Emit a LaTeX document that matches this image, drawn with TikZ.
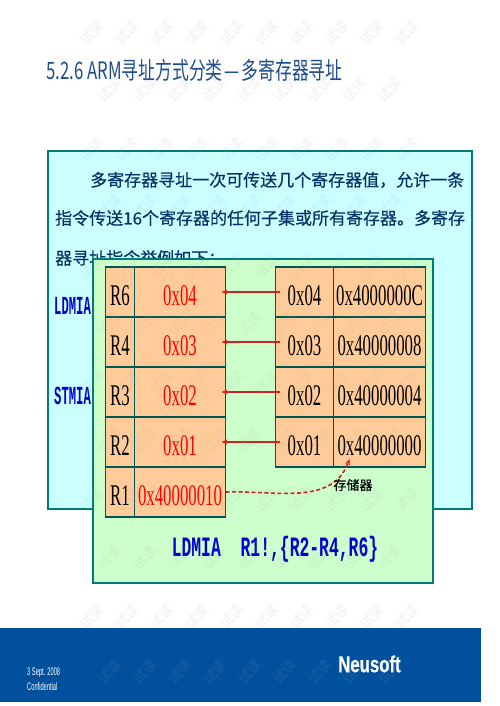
\documentclass[tikz,border=0pt]{standalone}
\usepackage{xcolor}
\usepackage{fontspec}
\usetikzlibrary{positioning, arrows.meta}
\newfontfamily\cjk{Noto Sans CJK SC}
\newfontfamily\bodyfont[FakeBold=0.4]{Noto Sans CJK SC}
\newfontfamily\titlefont[FakeStretch=0.7]{Noto Sans CJK SC}
\newfontfamily\regfont[FakeStretch=0.56]{Liberation Serif}
\newfontfamily\smallcode[FakeStretch=0.47]{Liberation Mono}
\newfontfamily\bigcode[FakeStretch=0.585]{Liberation Mono}
\newfontfamily\footfont[FakeStretch=0.52]{Liberation Sans}
\newfontfamily\logofont[FakeStretch=0.73, FakeBold=0.6]{Liberation Sans Bold}
\definecolor{panelCyan}{HTML}{CCFFFF}
\definecolor{panelGreen}{HTML}{CCFFCC}
\definecolor{cellOrange}{HTML}{FFCC99}
\definecolor{edgeTeal}{HTML}{007A7A}
\definecolor{bandBlue}{HTML}{00509E}
\definecolor{titleBlue}{HTML}{1F4E8C}
\definecolor{bodyNavy}{HTML}{003366}
\definecolor{arrowRed}{HTML}{D02020}

\begin{document}
\begin{tikzpicture}[x=1pt, y=-1pt,
    node distance=0pt,
    panel/.style={draw=edgeTeal, line width=2.5pt, anchor=north west, inner sep=0pt, outer sep=0pt},
    bodyline/.style={anchor=west, inner sep=0pt, text=bodyNavy, font=\bodyfont\fontsize{17}{17}\selectfont},
    cell/.style={draw=edgeTeal!70!black, line width=1.5pt, fill=cellOrange, minimum height=50pt,
      inner sep=0pt, outer sep=0pt, text height=26pt, text depth=0pt, font=\regfont\fontsize{30}{30}\selectfont},
    regname/.style={cell, minimum width=29pt},
    regval/.style={cell, minimum width=91pt, text=red},
    memval/.style={cell, minimum width=58pt},
    memaddr/.style={cell, minimum width=92pt},
    arr/.style={-{Stealth[length=6pt, width=5pt]}, line width=1.2pt, arrowRed, shorten <=-4pt, shorten >=-4pt},
    footline/.style={anchor=west, inner sep=0pt, text=white, font=\footfont\fontsize{11}{11}\selectfont},
    wmark/.style={rotate=48, inner sep=0pt, text=gray!70, opacity=.16, font=\cjk\fontsize{14}{14}\selectfont}]
    \fill[white] (0,0) rectangle (499,706);
    \useasboundingbox (0,0) rectangle (499,706);
    \node[anchor=west, inner sep=0pt, text=titleBlue, font=\titlefont\fontsize{24}{24}\selectfont] (title) at (46,70)
      {5.2.6 ARM寻址方式分类\hspace{2pt}—\hspace{2pt}多寄存器寻址};
    % text panel
    \node[panel, fill=panelCyan, minimum width=424pt, minimum height=358pt] (textpanel) at (48,151) {};
    \node[bodyline] (lineA) at (90,180) {多寄存器寻址一次可传送几个寄存器值，允许一条};
    \node[bodyline] (lineB) at (55,218) {指令传送16个寄存器的任何子集或所有寄存器。多寄存};
    \node[bodyline] (lineC) at (55,258) {器寻址指令举例如下：};
    \node[anchor=west, inner sep=0pt, text=blue!80!black, font=\smallcode\bfseries\fontsize{26}{26}\selectfont] (ldmia) at (54,306) {LDMIA};
    \node[anchor=west, inner sep=0pt, text=blue!80!black, font=\smallcode\bfseries\fontsize{26}{26}\selectfont] (stmia) at (54,396) {STMIA};
    % example panel
    \node[panel, fill=panelGreen, minimum width=340pt, minimum height=324pt] (examplepanel) at (93,259) {};
    % registers
    \node[regname, anchor=north west] (r6) at (105.5,267) {R6};
    \node[regval, right=of r6] (v6) {0x04};
    \node[regname, below=of r6] (r4) {R4};
    \node[regval, right=of r4] (v4) {0x03};
    \node[regname, below=of r4] (r3) {R3};
    \node[regval, right=of r3] (v3) {0x02};
    \node[regname, below=of r3] (r2) {R2};
    \node[regval, right=of r2] (v2) {0x01};
    \node[regname, below=of r2] (r1) {R1};
    \node[regval, right=of r1] (v1) {0x40000010};
    % memory
    \node[memval, anchor=north west] (m3) at (275.5,267) {0x04};
    \node[memaddr, right=of m3] (a3) {0x4000000C};
    \node[memval, below=of m3] (m2) {0x03};
    \node[memaddr, right=of m2] (a2) {0x40000008};
    \node[memval, below=of m2] (m1) {0x02};
    \node[memaddr, right=of m1] (a1) {0x40000004};
    \node[memval, below=of m1] (m0) {0x01};
    \node[memaddr, right=of m0] (a0) {0x40000000};
    \draw[arr] (m3) -- (v6);
    \draw[arr] (m2) -- (v4);
    \draw[arr] (m1) -- (v3);
    \draw[arr] (m0) -- (v2);
    \draw[arr, line width=1.6pt, dash pattern=on 4pt off 2.5pt, shorten <=0pt, shorten >=0pt] (v1.east) to[out=2, in=-110] ([shift={(16,-8)}]a0.south west);
    \node[inner sep=0pt, font=\bodyfont\fontsize{13}{13}\selectfont] (memlabel) at (353,485) {存储器};
    \node[inner sep=0pt, text=blue!80!black, font=\bigcode\bfseries\fontsize{28}{28}\selectfont] (code) at (275,549) {LDMIA\hspace{9.9pt} R1!,\{R2-R4,R6\}};
    % footer
    \node[anchor=north west, fill=bandBlue, inner sep=0pt, minimum width=481pt, minimum height=74pt] (band) at (0,628) {};
    \node[footline] (date) at (27,673) {3 Sept. 2008};
    \node[footline] (conf) at (27,687) {Confidential};
    \node[anchor=west, inner sep=0pt, text=white, font=\logofont\fontsize{23}{23}\selectfont] (logo) at (338,664) {Neusoft};
    % trial marks
    \foreach \y in {33,150,267,383,500,617}
      \foreach \x in {92,127,...,407}
        \node[wmark] (wm\y-\x) at (\x,\y) {试读};
    \foreach \y in {90,207,324,441,558,672}
      \foreach \x in {110,145,...,390}
        \node[wmark] (wm\y-\x) at (\x,\y) {试读};
\end{tikzpicture}
\end{document}
